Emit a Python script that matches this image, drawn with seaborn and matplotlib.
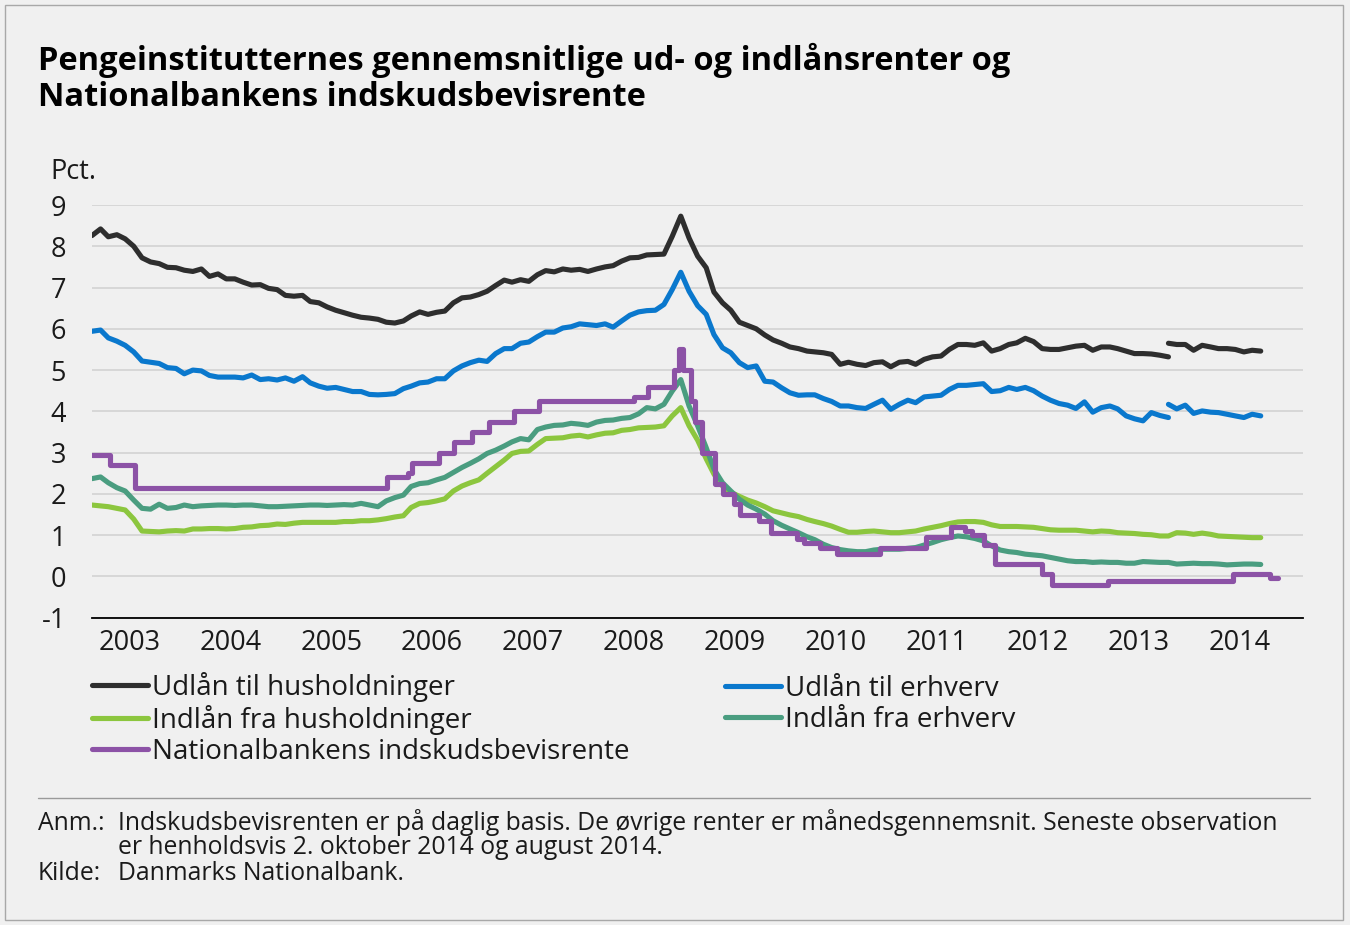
import pandas as pd
import matplotlib
matplotlib.use('Agg')
import matplotlib.pyplot as plt
import matplotlib.dates as mdates
from matplotlib.lines import Line2D
from matplotlib.patches import Rectangle
import seaborn as sns

# monthly series, Jan 2003 - Aug 2014 (pct.)
hh_lend_old = [8.26, 8.42, 8.23, 8.28, 8.18, 8.0, 7.72, 7.62, 7.58, 7.49, 7.48, 7.42, 7.39, 7.45, 7.27,
               7.33, 7.21, 7.21, 7.13, 7.06, 7.07, 6.98, 6.95, 6.81, 6.79, 6.81, 6.66, 6.63, 6.53, 6.45,
               6.39, 6.33, 6.28, 6.26, 6.23, 6.16, 6.14, 6.19, 6.31, 6.41, 6.35, 6.40, 6.43,
               6.63, 6.75, 6.77, 6.83, 6.91, 7.05, 7.18, 7.13, 7.19, 7.15, 7.31, 7.41, 7.38, 7.45, 7.42,
               7.44, 7.39, 7.45, 7.5, 7.53, 7.64, 7.72, 7.73, 7.79, 7.80, 7.81, 8.24, 8.73, 8.2, 7.76,
               7.48, 6.89, 6.63, 6.45, 6.16, 6.08, 6.0, 5.85, 5.73, 5.65, 5.56, 5.52, 5.46, 5.44, 5.42,
               5.38, 5.14, 5.19, 5.14, 5.11,
               5.18, 5.2, 5.08, 5.19, 5.21, 5.14, 5.26, 5.32, 5.34, 5.5, 5.62, 5.62, 5.6, 5.66, 5.46,
               5.52, 5.62, 5.66, 5.77, 5.69, 5.52, 5.5, 5.5, 5.54, 5.58, 5.6, 5.48, 5.56, 5.56, 5.52,
               5.46, 5.40, 5.40, 5.39, 5.36, 5.32]
hh_lend_new = [5.65, 5.62, 5.62, 5.48, 5.6, 5.56, 5.52, 5.52, 5.5, 5.44, 5.48, 5.46]

erh_lend_old = [5.94, 5.97, 5.78, 5.70, 5.60, 5.44, 5.22, 5.19, 5.16, 5.06, 5.04, 4.91, 5.0, 4.98, 4.87,
                4.83, 4.83, 4.83, 4.81, 4.88, 4.77, 4.79, 4.76, 4.81, 4.73, 4.84, 4.69, 4.61, 4.56, 4.58,
                4.53, 4.48, 4.48, 4.41, 4.40, 4.41, 4.43, 4.55, 4.61, 4.69, 4.71, 4.79, 4.79,
                4.98, 5.10, 5.18, 5.24, 5.21, 5.40, 5.52, 5.52, 5.65, 5.68, 5.81, 5.92, 5.92, 6.02, 6.05,
                6.12, 6.10, 6.08, 6.12, 6.04, 6.19, 6.33, 6.41, 6.44, 6.45, 6.59, 6.95, 7.37, 6.91, 6.56,
                6.35, 5.86, 5.54, 5.42, 5.18, 5.06, 5.10, 4.73, 4.71, 4.57, 4.45, 4.39, 4.40, 4.40, 4.31,
                4.24, 4.13, 4.13, 4.09, 4.07,
                4.17, 4.27, 4.05, 4.17, 4.27, 4.21, 4.35, 4.37, 4.39, 4.53, 4.63, 4.63, 4.65, 4.67, 4.48,
                4.50, 4.58, 4.53, 4.58, 4.50, 4.37, 4.27, 4.19, 4.15, 4.07, 4.23, 3.98, 4.09, 4.13, 4.06,
                3.89, 3.82, 3.77, 3.97, 3.90, 3.85]
erh_lend_new = [4.17, 4.06, 4.15, 3.95, 4.01, 3.98, 3.97, 3.93, 3.89, 3.85, 3.93, 3.89]

hh_dep = [1.73, 1.71, 1.69, 1.65, 1.61, 1.39, 1.10, 1.09, 1.08, 1.10, 1.11, 1.10, 1.15, 1.15, 1.16,
          1.16, 1.15, 1.16, 1.19, 1.20, 1.23, 1.24, 1.27, 1.26, 1.29, 1.31, 1.31, 1.31, 1.31, 1.31,
          1.33, 1.33, 1.35, 1.35, 1.37, 1.40, 1.44, 1.47, 1.67, 1.77, 1.79, 1.83, 1.88,
          2.07, 2.19, 2.27, 2.34, 2.50, 2.66, 2.82, 2.98, 3.03, 3.04, 3.20, 3.34, 3.35, 3.36, 3.40,
          3.42, 3.38, 3.43, 3.47, 3.48, 3.54, 3.56, 3.60, 3.61, 3.62, 3.65, 3.89, 4.09, 3.65, 3.30,
          2.85, 2.48, 2.19, 2.04, 1.94, 1.85, 1.78, 1.69, 1.59, 1.54, 1.49, 1.45, 1.38, 1.33, 1.28,
          1.22, 1.14, 1.07, 1.07, 1.09,
          1.10, 1.08, 1.06, 1.06, 1.08, 1.10, 1.15, 1.19, 1.23, 1.28, 1.32, 1.33, 1.33, 1.31, 1.25,
          1.21, 1.21, 1.21, 1.20, 1.19, 1.16, 1.13, 1.12, 1.12, 1.12, 1.10, 1.08, 1.10, 1.09, 1.06,
          1.05, 1.04, 1.02, 1.01, 0.98, 0.98, 1.06, 1.05, 1.02, 1.05, 1.02, 0.98, 0.97, 0.96, 0.95,
          0.94, 0.94]

erh_dep = [2.37, 2.41, 2.27, 2.15, 2.07, 1.85, 1.65, 1.63, 1.75, 1.65, 1.67, 1.73, 1.69, 1.71, 1.72,
           1.73, 1.73, 1.72, 1.73, 1.73, 1.71, 1.69, 1.69, 1.70, 1.71, 1.72, 1.73, 1.73, 1.72, 1.73,
           1.74, 1.73, 1.77, 1.73, 1.69, 1.83, 1.91, 1.97, 2.18, 2.25, 2.27, 2.34, 2.40,
           2.52, 2.64, 2.74, 2.85, 2.98, 3.06, 3.16, 3.26, 3.34, 3.31, 3.56, 3.62, 3.66, 3.67, 3.71,
           3.69, 3.66, 3.74, 3.78, 3.79, 3.83, 3.85, 3.94, 4.09, 4.06, 4.17, 4.49, 4.77, 4.13, 3.65,
           3.12, 2.60, 2.27, 2.07, 1.87, 1.73, 1.63, 1.51, 1.35, 1.24, 1.15, 1.06, 0.96, 0.89, 0.78,
           0.70, 0.65, 0.62, 0.60, 0.60,
           0.64, 0.66, 0.66, 0.66, 0.68, 0.70, 0.76, 0.82, 0.89, 0.94, 0.98, 0.96, 0.92, 0.86, 0.74,
           0.64, 0.60, 0.58, 0.54, 0.52, 0.50, 0.46, 0.42, 0.38, 0.36, 0.36, 0.34, 0.35, 0.34, 0.34,
           0.32, 0.32, 0.36, 0.35, 0.34, 0.34, 0.30, 0.31, 0.32, 0.31, 0.31, 0.30, 0.28, 0.29, 0.30,
           0.30, 0.29]

# Nationalbankens indskudsbevisrente (daily, changes only)
cd_dates = ['2003-01-01', '2003-03-07', '2003-06-06', '2005-12-02', '2006-02-17', '2006-03-03',
            '2006-06-09', '2006-08-04', '2006-10-06', '2006-12-08', '2007-03-09', '2007-06-08',
            '2008-05-16', '2008-07-04', '2008-10-07', '2008-10-24', '2008-11-10', '2008-12-09',
            '2008-12-22', '2009-01-16', '2009-03-06', '2009-04-03', '2009-05-12', '2009-06-04',
            '2009-08-10', '2009-09-22', '2009-12-28', '2010-01-21', '2010-03-21', '2010-05-21',
            '2010-10-22', '2011-04-08', '2011-07-08', '2011-08-26', '2011-09-22', '2011-11-04',
            '2011-12-15', '2012-06-01', '2012-07-06', '2013-01-25', '2014-04-24', '2014-09-05',
            '2014-10-02']
cd_rates = [2.95, 2.70, 2.15, 2.40, 2.50, 2.75,
            3.00, 3.25, 3.50, 3.75, 4.00, 4.25,
            4.35, 4.60, 5.00, 5.50, 5.00, 4.25,
            3.75, 3.00, 2.25, 2.00, 1.75, 1.50,
            1.35, 1.05, 0.90, 0.80, 0.70, 0.55,
            0.70, 0.95, 1.20, 1.10, 1.00, 0.75,
            0.30, 0.05, -0.20, -0.10, 0.05, -0.05,
            -0.05]

labels = ['Udlån til husholdninger', 'Indlån fra husholdninger', 'Nationalbankens indskudsbevisrente',
          'Udlån til erhverv', 'Indlån fra erhverv']
colors = ['#2e2e2e', '#8cc63e', '#8c52a6', '#0a78cd', '#4a9d80']

months = pd.date_range('2003-01-01', periods=len(hh_dep), freq='MS')
n_old = len(hh_lend_old)

bg = '#f0f0f0'
sns.set_style('white')
plt.rcParams['font.family'] = ['Open Sans', 'DejaVu Sans']
plt.rcParams['axes.unicode_minus'] = False

fig = plt.figure(figsize=(13.5, 9.25), dpi=100, facecolor=bg)
ax = fig.add_axes([92/1350, 1-617.7/925, (1303-92)/1350, (617.7-205)/925])
ax.set_facecolor(bg)

lw = 3.7
kw = dict(ax=ax, linewidth=lw, solid_capstyle='round', solid_joinstyle='round', legend=False)
sns.lineplot(x=months[:n_old], y=hh_lend_old, color=colors[0], **kw)
sns.lineplot(x=months[n_old-1:], y=hh_lend_new, color=colors[0], **kw)
sns.lineplot(x=months[:n_old], y=erh_lend_old, color=colors[3], **kw)
sns.lineplot(x=months[n_old-1:], y=erh_lend_new, color=colors[3], **kw)
sns.lineplot(x=months, y=hh_dep, color=colors[1], **kw)
sns.lineplot(x=months, y=erh_dep, color=colors[4], **kw)
sns.lineplot(x=pd.to_datetime(cd_dates), y=cd_rates, color=colors[2], drawstyle='steps-post', **kw)

# axes styling
ax.set_ylim(-1, 9)
ax.set_yticks(range(-1, 10))
ax.yaxis.grid(True, color='#d2d2d2', linewidth=1.2)
ax.set_axisbelow(True)
ax.set_xlim(pd.Timestamp('2003-01-01'), pd.Timestamp('2015-01-01'))
ax.xaxis.set_major_locator(mdates.YearLocator())
ax.xaxis.set_major_formatter(plt.NullFormatter())
ax.xaxis.set_minor_locator(mdates.MonthLocator(bymonth=5, bymonthday=16))
ax.xaxis.set_minor_formatter(mdates.DateFormatter('%Y'))
ax.tick_params(axis='x', which='major', direction='in', length=5, width=1, color='black')
ax.tick_params(axis='x', which='minor', length=0, labelsize=19.5, pad=8, labelcolor='#1a1a1a')
ax.tick_params(axis='y', length=0, labelsize=19.5, pad=18.5, labelcolor='#1a1a1a')
ax.set_xlabel('')
ax.set_ylabel('')
for s in ['top', 'right', 'left']:
    ax.spines[s].set_visible(False)
ax.spines['bottom'].set_color('black')
ax.spines['bottom'].set_linewidth(1.3)

fig.text(50/1350, 1-172/925, 'Pct.', fontsize=19.5, va='center', color='#1a1a1a')

# title
tkw = dict(fontsize=23.5, fontweight='bold', va='center', color='black')
fig.text(38/1350, 1-60/925, 'Pengeinstitutternes gennemsnitlige ud- og indlånsrenter og', **tkw)
fig.text(38/1350, 1-97/925, 'Nationalbankens indskudsbevisrente', **tkw)

# legend in two blocks
handles = [Line2D([], [], color=c, linewidth=lw, solid_capstyle='round') for c in colors]
lkw = dict(loc='upper left', frameon=False, fontsize=20, handlelength=2.0, handletextpad=0.15,
           labelspacing=0.11, borderpad=0, borderaxespad=0, labelcolor='#1a1a1a')
fig.legend(handles[:3], labels[:3], bbox_to_anchor=(92/1350, 1-672/925), **lkw)
fig.legend(handles[3:], labels[3:], bbox_to_anchor=(725/1350, 1-675/925), **lkw)

# separator and frame
fig.add_artist(Line2D([38/1350, 1310/1350], [1-798/925, 1-798/925], color='#9a9a9a', linewidth=1))
fig.add_artist(Rectangle((5/1350, 1-920/925), 1338/1350, 915/925, fill=False,
                         edgecolor='#a8a8a8', linewidth=1))

# notes
nkw = dict(fontsize=17.8, va='center', color='#1a1a1a')
fig.text(38/1350, 1-823/925, 'Anm.:', **nkw)
fig.text(118/1350, 1-823/925, 'Indskudsbevisrenten er på daglig basis. De øvrige renter er '
         'månedsgennemsnit. Seneste observation', **nkw)
fig.text(118/1350, 1-847/925, 'er henholdsvis 2. oktober 2014 og august 2014.', **nkw)
fig.text(38/1350, 1-873/925, 'Kilde:', **nkw)
fig.text(118/1350, 1-873/925, 'Danmarks Nationalbank.', **nkw)

plt.savefig('out.png', dpi=100, facecolor=bg)
